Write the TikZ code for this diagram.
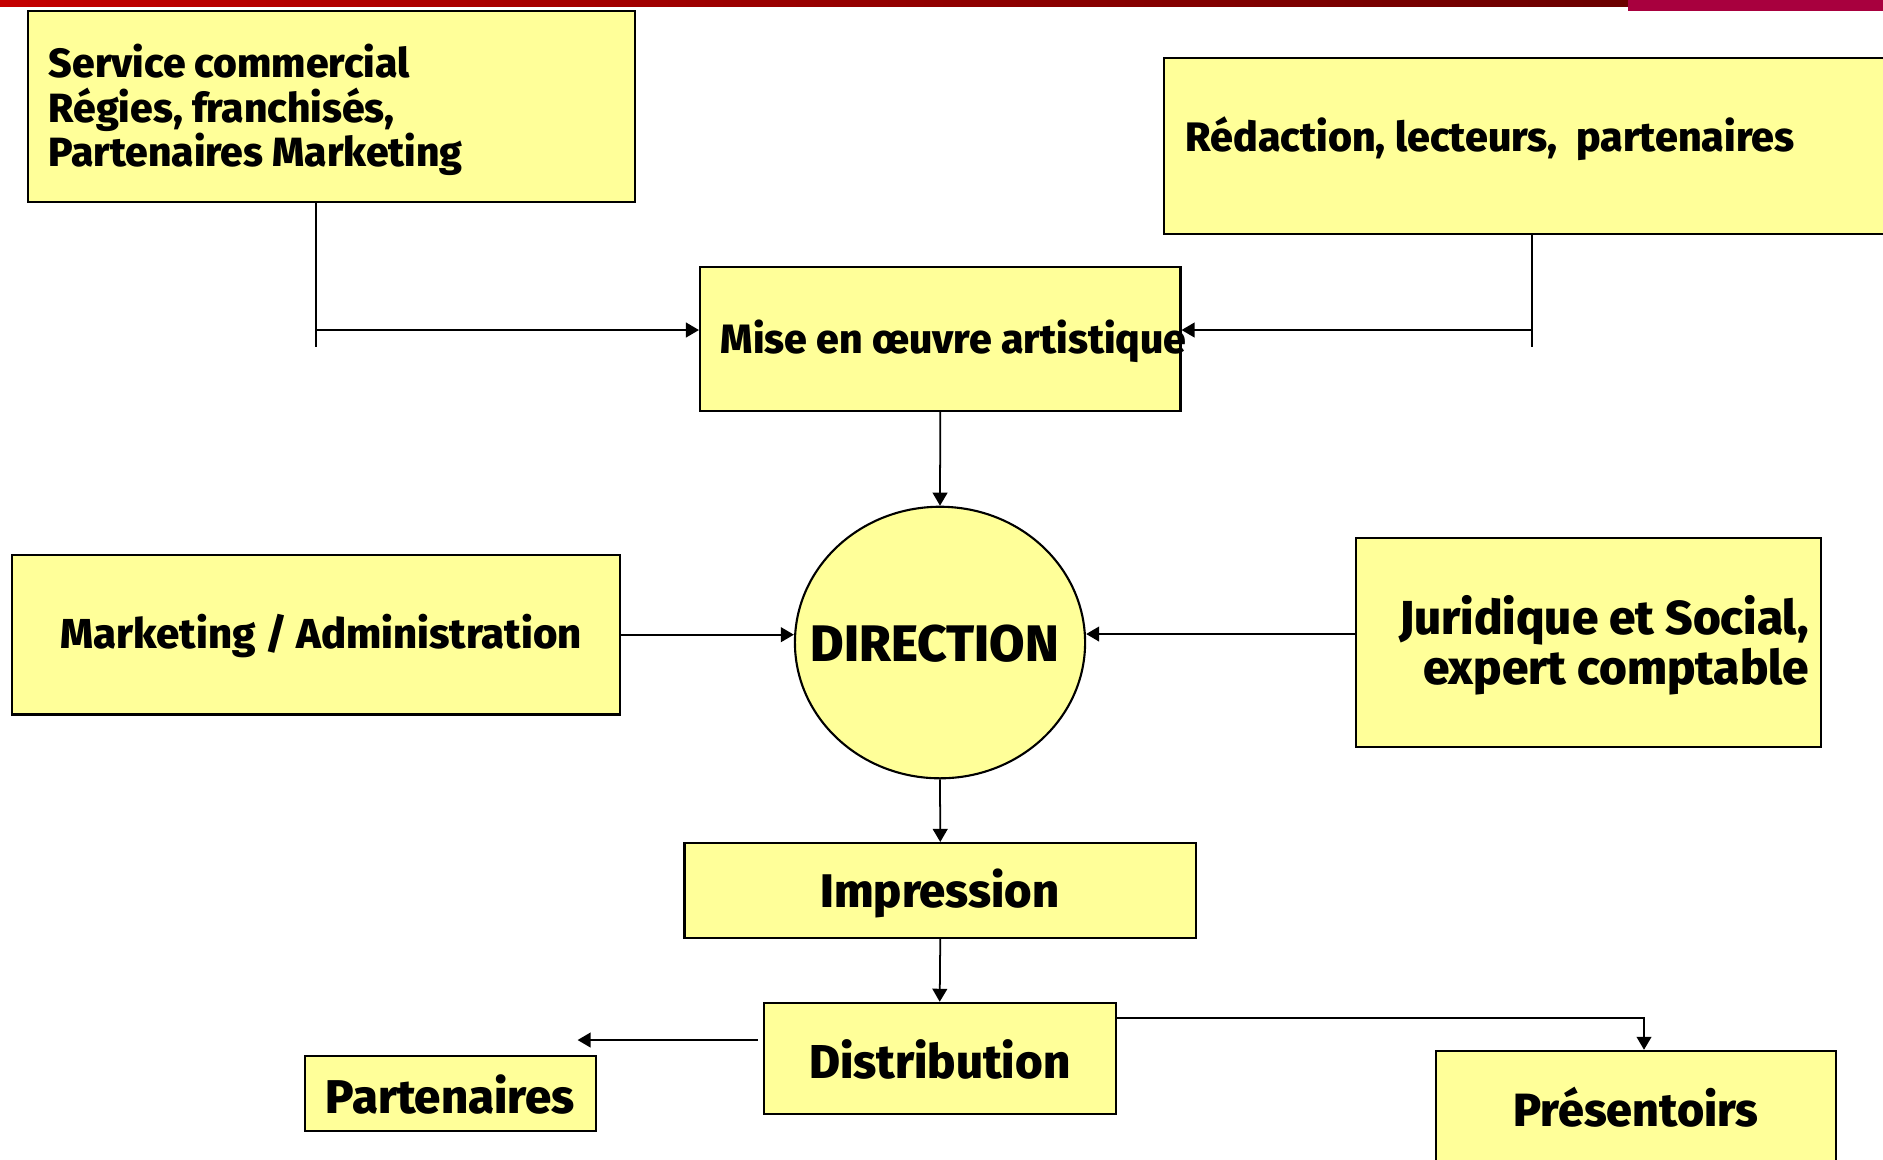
\documentclass[tikz,border=0pt]{standalone}
\usepackage{fontspec}
\setmainfont{Fira Sans}[BoldFont={Fira Sans ExtraBold}]
\usetikzlibrary{arrows.meta,shapes.geometric,fit}
\definecolor{boxfill}{HTML}{FFFF99}
\definecolor{barL}{HTML}{C40000}
\definecolor{barR}{HTML}{6B0000}
\definecolor{magbar}{HTML}{A8003E}
\begin{document}
\begin{tikzpicture}[x=0.01cm,y=-0.01cm,
  box/.style={draw=black, line width=0.6pt, fill=boxfill, inner sep=0pt},
  lbl/.style={inner sep=0pt},
  conn/.style={line width=0.5pt},
  arr/.style={conn, -{Triangle[length=3.7pt,width=4.2pt]}}]
\useasboundingbox (0,0) rectangle (1883,1159);
\fill[white] (0,0) rectangle (1883,1159);
\shade[left color=barL, right color=barR] (0,0) rectangle (1628,6);
\fill[magbar] (1628,0) rectangle (1883,11);
% boxes
\node[box, fit={(27.6,10.8) (635,201.8)}] (svc) {};
\node[box, fit={(1164,57.6) (1900,234)}] (red) {};
\node[box, fit={(700,266.6) (1180.5,410.7)}] (mise) {};
\node[box, ellipse, minimum width=2.9cm, minimum height=2.714cm] (dir) at (940,642.5) {};
\node[box, fit={(12,554.8) (619.7,714.5)}] (mkt) {};
\node[box, fit={(1355.8,538) (1820.6,747)}] (jur) {};
\node[box, fit={(684.5,843) (1196,938)}] (imp) {};
\node[box, fit={(763.8,1002.8) (1115.6,1114.4)}] (dist) {};
\node[box, fit={(305,1055.6) (595.6,1131)}] (part) {};
\node[box, fit={(1436,1050.8) (1836,1180)}] (pres) {};
% labels
\node[lbl, anchor=west, align=left, font=\bfseries\fontsize{11.6}{12.7}\selectfont] (tsvc) at (48,110) {Service commercial\\Régies, franchisés,\\Partenaires Marketing};
\node[lbl, anchor=west, font=\bfseries\fontsize{11.7}{14}\selectfont] (tred) at (1185,139) {Rédaction, lecteurs,\ \ partenaires};
\node[lbl, anchor=west, font=\bfseries\fontsize{11.65}{14}\selectfont] (tmise) at (720,341) {Mise en œuvre artistique};
\node[lbl, font=\bfseries\fontsize{14.6}{17}\selectfont] (tdir) at (935,643.7) {DIRECTION};
\node[lbl, anchor=west, font=\bfseries\fontsize{11.9}{14}\selectfont] (tmkt) at (60,636) {Marketing / Administration};
\node[lbl, anchor=east, align=right, font=\bfseries\fontsize{13.55}{14.3}\selectfont] (tjur) at (1809.7,645) {Juridique et Social,\\expert comptable};
\node[lbl, font=\bfseries\fontsize{13.4}{16}\selectfont] (timp) at (940,893) {Impression};
\node[lbl, font=\bfseries\fontsize{13.5}{16}\selectfont] (tdist) at (939.7,1059) {Distribution};
\node[lbl, font=\bfseries\fontsize{13.45}{16}\selectfont] (tpart) at (450.3,1094) {Partenaires};
\node[lbl, font=\bfseries\fontsize{13.25}{16}\selectfont] (tpres) at (1636,1107) {Présentoirs};
% connectors
\coordinate (c1) at (316,330);
\coordinate (c1e) at (316,347);
\draw[conn] (svc.south -| c1) -- (c1e);
\draw[arr] (c1) -- (mise.west |- c1);
\coordinate (c2) at (1532,330);
\coordinate (c2e) at (1532,347);
\draw[conn] (red.south -| c2) -- (c2e);
\draw[arr] (c2) -- (mise.east |- c2);
\draw[arr] (mise.south) -- (dir.north);
\draw[arr] (mkt.east) -- (mkt.east -| dir.west);
\coordinate (cj) at (1355.8,634);
\draw[arr] (jur.west |- cj) -- (dir.east |- cj);
\draw[arr] (dir.south) -- (imp.north);
\draw[arr] (imp.south) -- (dist.north);
\coordinate (cp) at (577.6,1040);
\draw[arr] ([xshift=-0.05cm]dist.west |- cp) -- (cp);
\coordinate (cr) at (1644,1018);
\draw[arr] (dist.east |- cr) -| (pres.north -| cr);
\end{tikzpicture}
\end{document}
